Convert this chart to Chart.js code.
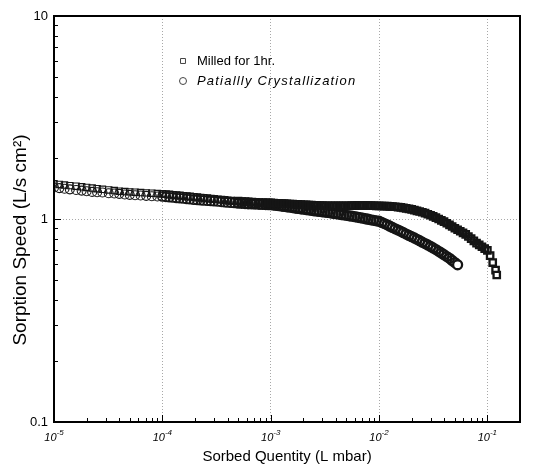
<!DOCTYPE html>
<html><head><meta charset="utf-8">
<script src="https://cdn.jsdelivr.net/npm/chart.js@4.4.1/dist/chart.umd.min.js"></script>
<style>html,body{margin:0;padding:0;background:#fff;} #wrap{width:539px;height:469px;position:relative;}</style>
</head><body><div id="wrap"><canvas id="c" width="539" height="469" style="width:539px;height:469px;"></canvas></div>
<script>
// ---- data ----
const sorbedQuantity = [
 1.0e-5,1.12e-5,1.25e-5,1.4e-5,1.6e-5,1.8e-5,2.0e-5,2.25e-5,2.5e-5,2.8e-5,3.2e-5,3.6e-5,4.0e-5,4.5e-5,5.0e-5,5.6e-5,6.3e-5,7.1e-5,8.0e-5,9.0e-5,
 1.0e-4,1.08e-4,1.16e-4,1.25e-4,1.35e-4,1.45e-4,1.56e-4,1.68e-4,1.8e-4,1.95e-4,2.1e-4,2.25e-4,2.4e-4,2.6e-4,2.8e-4,3.0e-4,3.25e-4,3.5e-4,3.75e-4,4.0e-4,4.3e-4,4.6e-4,5.0e-4,5.4e-4,5.8e-4,6.2e-4,6.7e-4,7.2e-4,7.8e-4,8.4e-4,9.0e-4,9.5e-4,
 1.0e-3,1.06e-3,1.12e-3,1.19e-3,1.26e-3,1.33e-3,1.41e-3,1.5e-3,1.59e-3,1.68e-3,1.78e-3,1.89e-3,2.0e-3,2.12e-3,2.24e-3,2.37e-3,2.51e-3,2.66e-3,2.82e-3,2.99e-3,3.16e-3,3.35e-3,3.55e-3,3.76e-3,3.98e-3,4.22e-3,4.47e-3,4.73e-3,5.01e-3,5.31e-3,5.62e-3,5.96e-3,6.31e-3,6.68e-3,7.08e-3,7.5e-3,7.94e-3,8.41e-3,8.91e-3,9.44e-3,
 1.0e-2,1.06e-2,1.12e-2,1.19e-2,1.26e-2,1.33e-2,1.41e-2,1.5e-2,1.59e-2,1.68e-2,1.78e-2,1.89e-2,2.0e-2,2.12e-2,2.24e-2,2.37e-2,2.51e-2,2.66e-2,2.82e-2,2.99e-2,3.16e-2,3.35e-2,3.55e-2,3.76e-2,3.98e-2,4.22e-2,4.47e-2,4.73e-2,5.01e-2,5.31e-2,5.62e-2,5.96e-2,6.31e-2,6.68e-2,7.08e-2,7.5e-2,7.94e-2,8.41e-2,8.91e-2,9.44e-2,
 0.1,0.106,0.112,0.119,0.122
];
const milledSpeed = [
 1.49,1.48,1.47,1.46,1.45,1.44,1.43,1.42,1.41,1.40,1.39,1.38,1.37,1.365,1.36,1.355,1.35,1.345,1.34,1.335,
 1.33,1.325,1.32,1.315,1.31,1.305,1.30,1.295,1.29,1.285,1.28,1.275,1.27,1.265,1.26,1.255,1.25,1.245,1.24,1.235,1.23,1.228,1.225,1.22,1.217,1.214,1.211,1.208,1.205,1.203,1.201,1.20,
 1.2,1.198,1.196,1.194,1.192,1.19,1.188,1.186,1.184,1.182,1.18,1.178,1.176,1.174,1.172,1.17,1.168,1.166,1.164,1.163,1.162,1.161,1.16,1.16,1.16,1.16,1.16,1.16,1.161,1.162,1.163,1.164,1.165,1.165,1.165,1.165,1.164,1.163,1.162,1.16,
 1.160,1.159,1.158,1.157,1.155,1.152,1.149,1.145,1.140,1.134,1.128,1.122,1.115,1.106,1.097,1.089,1.080,1.068,1.055,1.043,1.030,1.015,1.000,0.985,0.970,0.953,0.935,0.918,0.900,0.885,0.870,0.855,0.840,0.820,0.800,0.780,0.760,0.745,0.730,0.715,
 0.70,0.66,0.61,0.56,0.53
];
const crystSpeed = [
 1.43,1.42,1.41,1.40,1.39,1.38,1.37,1.36,1.355,1.35,1.34,1.335,1.33,1.32,1.315,1.31,1.305,1.30,1.295,1.29,
 1.29,1.285,1.28,1.275,1.27,1.265,1.26,1.255,1.25,1.245,1.24,1.237,1.234,1.23,1.226,1.222,1.218,1.214,1.21,1.206,1.203,1.2,1.197,1.194,1.191,1.188,1.186,1.184,1.182,1.18,1.178,1.176,
 1.176,1.172,1.168,1.163,1.158,1.153,1.148,1.143,1.138,1.133,1.128,1.123,1.118,1.113,1.108,1.103,1.098,1.094,1.09,1.086,1.082,1.077,1.072,1.067,1.062,1.057,1.052,1.047,1.042,1.037,1.032,1.027,1.021,1.015,1.009,1.003,0.997,0.991,0.985,0.979,
 0.975,0.962,0.949,0.936,0.922,0.909,0.895,0.882,0.869,0.856,0.843,0.83,0.818,0.806,0.794,0.782,0.769,0.757,0.745,0.732,0.72,0.707,0.693,0.68,0.667,0.653,0.64,0.625,0.61,0.595
];
const seriesLabels = ['Milled for 1hr.', 'Patiallly Crystallization'];
const xDecades = [1e-5, 1e-4, 1e-3, 1e-2, 1e-1];
const xExponentLabels = ['-5', '-4', '-3', '-2', '-1'];
const yDecades = [0.1, 1, 10];
const yTickLabels = ['0.1', '1', '10'];
const xTitle = 'Sorbed Quentity (L mbar)';
const yTitle = 'Sorption Speed (L/s cm\u00B2)';

// ---- build ----
function logTicks(decades, min, max) {
  const out = [];
  decades.forEach(d => {
    for (let m = 1; m <= 9; m++) {
      const v = +(d * m).toPrecision(3);
      if (v >= min * 0.999 && v <= max * 1.001) out.push({ value: v, major: m === 1 });
    }
  });
  return out;
}
const X_MIN = 1e-5, X_MAX = 0.2, Y_MIN = 0.1, Y_MAX = 10;
const FONT = '"Liberation Sans", Arial, sans-serif';

const framePlugin = {
  id: 'frame',
  afterDraw(chart) {
    const { ctx, chartArea: a, scales: { x, y } } = chart;
    ctx.save();
    ctx.strokeStyle = '#000';
    ctx.lineWidth = 1;
    x.ticks.forEach(t => {
      const px = Math.round(x.getPixelForValue(t.value)) + 0.5;
      const len = t.major ? 7 : 4;
      ctx.beginPath(); ctx.moveTo(px, a.bottom); ctx.lineTo(px, a.bottom - len); ctx.stroke();
    });
    y.ticks.forEach(t => {
      const py = Math.round(y.getPixelForValue(t.value)) + 0.5;
      const len = t.major ? 7 : 4;
      ctx.beginPath(); ctx.moveTo(a.left, py); ctx.lineTo(a.left + len, py); ctx.stroke();
    });
    ctx.lineWidth = 2;
    ctx.strokeRect(a.left, a.top, a.right - a.left, a.bottom - a.top);
    // x tick labels with superscript exponents
    ctx.fillStyle = '#000';
    ctx.textBaseline = 'alphabetic';
    xDecades.forEach((v, i) => {
      const px = x.getPixelForValue(v);
      ctx.font = 'italic 11px ' + FONT;
      const w1 = ctx.measureText('10').width;
      ctx.font = 'italic 8px ' + FONT;
      const w2 = ctx.measureText(xExponentLabels[i]).width;
      const start = px - (w1 + w2) / 2;
      ctx.font = 'italic 11px ' + FONT;
      ctx.textAlign = 'left';
      ctx.fillText('10', start, a.bottom + 19);
      ctx.font = 'italic 8px ' + FONT;
      ctx.fillText(xExponentLabels[i], start + w1, a.bottom + 13);
    });
    // y axis title
    ctx.save();
    ctx.translate(21, 240);
    ctx.rotate(-Math.PI / 2);
    ctx.font = '19px ' + FONT;
    ctx.textAlign = 'center';
    ctx.textBaseline = 'middle';
    ctx.fillText(yTitle, 0, 0);
    ctx.restore();
    // legend inside plot
    ctx.textAlign = 'left';
    ctx.textBaseline = 'middle';
    chart.data.datasets.forEach((ds, i) => {
      const lx = a.left + 129, ly = a.top + 45 + i * 20;
      ctx.strokeStyle = '#444'; ctx.fillStyle = '#fff'; ctx.lineWidth = 1;
      Chart.helpers.drawPoint(ctx, { pointStyle: ds.pointStyle, radius: 3.5, borderWidth: 1, rotation: 0 }, lx, ly);
      ctx.fillStyle = '#000';
      ctx.font = (i === 1 ? 'italic ' : '') + '13px ' + FONT;
      ctx.letterSpacing = i === 1 ? '1.2px' : '0px';
      ctx.fillText(ds.label, lx + 14, ly);
    });
    ctx.restore();
  }
};

const gridColor = c => (c.tick && c.tick.major) ? '#a8a8a8' : 'rgba(0,0,0,0)';
const markerWidth = c => { const v = c.raw ? c.raw.x : 1; return v < 1e-4 ? 1.1 : (v < 5e-4 ? 1.5 : 2.3); };
const markerFill = c => c.dataIndex === c.dataset.data.length - 1 ? '#fff' : 'rgba(255,255,255,0)';

new Chart(document.getElementById('c'), {
  type: 'scatter',
  data: {
    datasets: [
      {
        label: seriesLabels[0],
        data: sorbedQuantity.map((q, i) => ({ x: q, y: milledSpeed[i] })),
        pointStyle: 'rect', pointRadius: 4.5, borderWidth: markerWidth,
        borderColor: '#151515', backgroundColor: markerFill, showLine: false
      },
      {
        label: seriesLabels[1],
        data: crystSpeed.map((s, i) => ({ x: sorbedQuantity[i], y: s })),
        pointStyle: 'circle', pointRadius: 4.5, borderWidth: markerWidth,
        borderColor: '#151515', backgroundColor: markerFill, showLine: false
      }
    ]
  },
  options: {
    responsive: false, animation: false, devicePixelRatio: 1,
    layout: { padding: { top: 16, right: 19, left: 0, bottom: 0 } },
    plugins: { legend: { display: false }, tooltip: { enabled: false } },
    scales: {
      x: {
        type: 'logarithmic', min: X_MIN, max: X_MAX,
        afterBuildTicks: s => { s.ticks = logTicks(xDecades, X_MIN, X_MAX); },
        afterFit: s => { s.height = 47; },
        ticks: { display: false, autoSkip: false },
        grid: { color: gridColor, lineWidth: 1, drawTicks: false },
        border: { display: false, dash: [1, 2] },
        title: { display: true, text: xTitle, color: '#000',
          font: { family: FONT, size: 15 }, padding: { top: 20, bottom: 3 } }
      },
      y: {
        type: 'logarithmic', min: Y_MIN, max: Y_MAX,
        afterBuildTicks: s => { s.ticks = logTicks(yDecades, Y_MIN, Y_MAX); },
        afterFit: s => { s.width = 54; },
        ticks: { autoSkip: false, color: '#000', padding: 6,
          font: { family: FONT, size: 13 },
          callback: (v) => { const k = yDecades.findIndex(d => Math.abs(d - v) / d < 1e-6); return k >= 0 ? yTickLabels[k] : ''; } },
        grid: { color: gridColor, lineWidth: 1, drawTicks: false },
        border: { display: false, dash: [1, 2] },
        title: { display: false }
      }
    }
  },
  plugins: [framePlugin]
});
</script></body></html>
